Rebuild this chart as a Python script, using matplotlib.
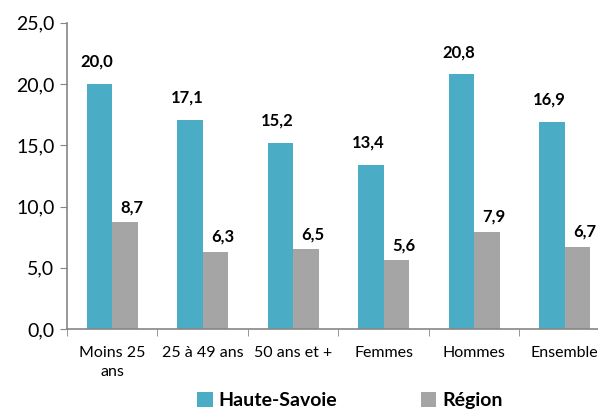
import numpy as np
import matplotlib.pyplot as plt

# data
categories = ["Moins 25\nans", "25 à 49 ans", "50 ans et +", "Femmes", "Hommes", "Ensemble"]
haute_savoie = [20.0, 17.1, 15.2, 13.4, 20.8, 16.9]
region = [8.7, 6.3, 6.5, 5.6, 7.9, 6.7]
yticks = [0, 5, 10, 15, 20, 25]

teal = "#4BACC6"
grey = "#A5A5A5"
plt.rcParams['font.family'] = ['Lato', 'DejaVu Sans']

fig = plt.figure(figsize=(5.98, 4.12), dpi=100)
ax = fig.add_axes([0.112, 0.2015, 0.908, 0.743])

x = np.arange(len(categories))
w = 0.283
b1 = ax.bar(x - w/2, haute_savoie, w, color=teal, label="Haute-Savoie")
b2 = ax.bar(x + w/2, region, w, color=grey, label="Région")

fmt = lambda v: f"{v:.1f}".replace(".", ",")
for xi, v in zip(x, haute_savoie):
    ax.annotate(fmt(v), (xi - w/2, v), xytext=(-2, 16), textcoords="offset points",
                ha="center", va="center", fontsize=12, fontweight="bold")
for xi, v in zip(x, region):
    ax.annotate(fmt(v), (xi + w/2, v), xytext=(5, 11), textcoords="offset points",
                ha="center", va="center", fontsize=12, fontweight="bold")

ax.set_xlim(-0.5, len(categories) - 0.5)
ax.set_ylim(0, 25)
ax.set_yticks(yticks)
ax.set_yticklabels([fmt(t) for t in yticks], fontsize=14)
ax.set_xticks(x)
ax.set_xticklabels(categories, fontsize=11.5, linespacing=1.5)
ax.set_xticks(np.arange(len(categories) + 1) - 0.5, minor=True)
ax.tick_params(axis="x", which="major", length=0, pad=12)
ax.tick_params(axis="x", which="minor", length=5, color="#868686")
ax.tick_params(axis="y", length=5, color="#868686", pad=4)

for s in ["top", "right"]:
    ax.spines[s].set_visible(False)
for s in ["left", "bottom"]:
    ax.spines[s].set_color("#868686")
    ax.spines[s].set_linewidth(1.2)

fig.legend(handles=[b1, b2], loc="lower center", bbox_to_anchor=(0.585, -0.035), ncol=2,
           frameon=False, prop={"size": 14, "weight": "bold"},
           handlelength=0.8, handleheight=0.8, handletextpad=0.3, columnspacing=4.3)

fig.savefig("out.png", dpi=100)
